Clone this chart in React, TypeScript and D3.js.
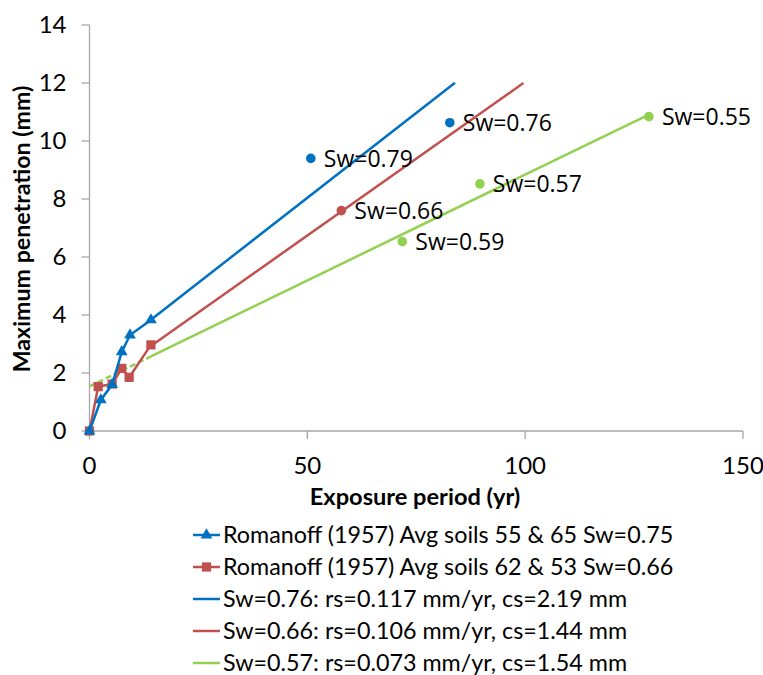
import * as d3 from 'd3';

// Romanoff (1957) measurements
const blueYears = [0, 2.6, 5.2, 7.4, 9.3, 14.1];
const blueDepth = [0, 1.07, 1.6, 2.73, 3.31, 3.83];
const redYears = [0, 2.0, 5.2, 7.4, 9.1, 14.1];
const redDepth = [0, 1.53, 1.62, 2.16, 1.85, 2.97];

// single-point observations with labels
const pointYears = [50.8, 82.7, 57.8, 89.6, 71.8, 128.4];
const pointDepth = [9.4, 10.63, 7.6, 8.52, 6.53, 10.84];
const pointLabels = ['Sw=0.79', 'Sw=0.76', 'Sw=0.66', 'Sw=0.57', 'Sw=0.59', 'Sw=0.55'];
const pointSeries = ['blue', 'blue', 'red', 'green', 'green', 'green'];

// fitted lines: rs (mm/yr), cs (mm), start / end year
const fitRate = [0.117, 0.106, 0.073];
const fitIntercept = [2.19, 1.44, 1.54];
const fitStart = [14.1, 14.1, 14.1];
const fitEnd = [83.9, 99.6, 128.4];
const fitSeries = ['blue', 'red', 'green'];

const xTicks = [0, 50, 100, 150];
const yTicks = [0, 2, 4, 6, 8, 10, 12, 14];

const legendLabels = [
  'Romanoff (1957) Avg soils 55 & 65 Sw=0.75',
  'Romanoff (1957) Avg soils 62 & 53 Sw=0.66',
  'Sw=0.76: rs=0.117 mm/yr, cs=2.19 mm',
  'Sw=0.66: rs=0.106 mm/yr, cs=1.44 mm',
  'Sw=0.57: rs=0.073 mm/yr, cs=1.54 mm',
];

const colors: Record<string, string> = {
  blue: '#0070C0',
  red: '#C0504D',
  green: '#92D050',
};

const font = 'Lato, "Open Sans", sans-serif';
const axisGray = '#A6A6A6';

function App() {
  const x = d3.scaleLinear().domain([0, 150]).range([89.5, 743]);
  const y = d3.scaleLinear().domain([0, 14]).range([431, 25]);

  const line = d3
    .line<[number, number]>()
    .x(d => x(d[0]))
    .y(d => y(d[1]));

  const bluePts = blueYears.map((v, i) => [v, blueDepth[i]] as [number, number]);
  const redPts = redYears.map((v, i) => [v, redDepth[i]] as [number, number]);

  const tri = d3.symbol().type(d3.symbolTriangle).size(60)();
  const sq = d3.symbol().type(d3.symbolSquare).size(85)();

  const legendY = [535, 567, 599, 631, 663];

  return (
    <svg width={763} height={675} style={{ position: 'absolute', left: 0, top: 0, background: '#fff' }}>
      {/* axes */}
      <line x1={x(0)} x2={x(150)} y1={y(0)} y2={y(0)} stroke={axisGray} strokeWidth={1.3} />
      <line x1={x(0)} x2={x(0)} y1={y(0)} y2={y(14)} stroke={axisGray} strokeWidth={1.3} />
      {xTicks.map(t => (
        <g key={'xt' + t}>
          <line x1={x(t)} x2={x(t)} y1={y(0)} y2={y(0) + 8} stroke={axisGray} strokeWidth={1.3} />
          <text x={x(t)} y={y(0) + 43} textAnchor="middle" fontFamily={font} fontSize={24} fill="#000">
            {t}
          </text>
        </g>
      ))}
      {yTicks.map(t => (
        <g key={'yt' + t}>
          <line x1={x(0) - 8} x2={x(0)} y1={y(t)} y2={y(t)} stroke={axisGray} strokeWidth={1.3} />
          <text x={x(0) - 23} y={y(t)} dy="0.35em" textAnchor="end" fontFamily={font} fontSize={24} fill="#000">
            {t}
          </text>
        </g>
      ))}

      {/* axis titles */}
      <text x={415} y={505} textAnchor="middle" fontFamily={font} fontSize={23.6} fontWeight="bold">
        Exposure period (yr)
      </text>
      <text
        transform="translate(30,229) rotate(-90)"
        textAnchor="middle"
        fontFamily={font}
        fontSize={23.2}
        fontWeight="bold"
      >
        Maximum penetration (mm)
      </text>

      {/* fitted lines */}
      {fitRate.map((r, i) => (
        <path
          key={'fit' + i}
          d={line([
            [fitStart[i], fitIntercept[i] + r * fitStart[i]],
            [fitEnd[i], fitIntercept[i] + r * fitEnd[i]],
          ]) as string}
          fill="none"
          stroke={colors[fitSeries[i]]}
          strokeWidth={2.5}
        />
      ))}
      {/* green extrapolation back to zero */}
      <path
        d={line([
          [0, fitIntercept[2]],
          [fitStart[2], fitIntercept[2] + fitRate[2] * fitStart[2]],
        ]) as string}
        fill="none"
        stroke={colors.green}
        strokeWidth={2.5}
        strokeDasharray="6 3"
      />

      {/* Romanoff series */}
      <path d={line(redPts) as string} fill="none" stroke={colors.red} strokeWidth={2.5} />
      {redPts.map((p, i) => (
        <path key={'rs' + i} d={sq as string} transform={`translate(${x(p[0])},${y(p[1])})`} fill={colors.red} />
      ))}
      <path d={line(bluePts) as string} fill="none" stroke={colors.blue} strokeWidth={2.5} />
      {bluePts.map((p, i) => (
        <path key={'bt' + i} d={tri as string} transform={`translate(${x(p[0])},${y(p[1])})`} fill={colors.blue} />
      ))}

      {/* labelled points */}
      {pointYears.map((v, i) => (
        <g key={'pt' + i}>
          <circle cx={x(v)} cy={y(pointDepth[i])} r={4.8} fill={colors[pointSeries[i]]} />
          <text
            x={x(v) + 13}
            y={y(pointDepth[i])}
            dy="0.36em"
            fontFamily='"Open Sans", sans-serif'
            fontSize={23}
            fill="#000"
          >
            {pointLabels[i]}
          </text>
        </g>
      ))}

      {/* legend */}
      {legendLabels.map((lab, i) => {
        const c = colors[['blue', 'red', 'blue', 'red', 'green'][i]];
        return (
          <g key={'lg' + i}>
            <line x1={193} x2={220} y1={legendY[i]} y2={legendY[i]} stroke={c} strokeWidth={2.5} />
            {i === 0 && <path d={tri as string} transform={`translate(206.5,${legendY[i]})`} fill={c} />}
            {i === 1 && <path d={sq as string} transform={`translate(206.5,${legendY[i]})`} fill={c} />}
            <text x={223} y={legendY[i]} dy="0.35em" fontFamily={font} fontSize={23.3} fill="#000">
              {lab}
            </text>
          </g>
        );
      })}
    </svg>
  );
}

export default App;
